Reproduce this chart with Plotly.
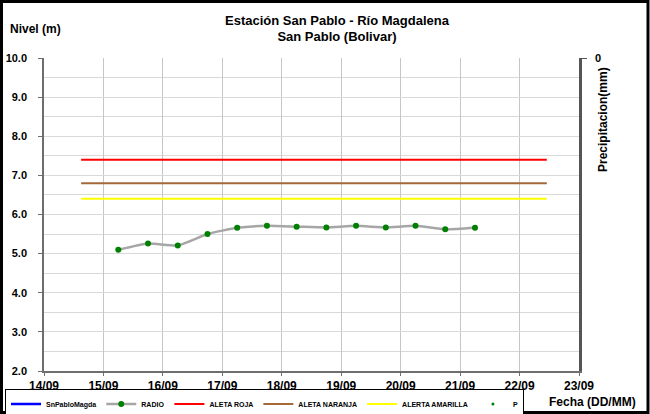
import plotly.graph_objects as go

# ---- data ----
radio_times = ["2023-09-15 06:00", "2023-09-15 18:00", "2023-09-16 06:00", "2023-09-16 18:00",
               "2023-09-17 06:00", "2023-09-17 18:00", "2023-09-18 06:00", "2023-09-18 18:00",
               "2023-09-19 06:00", "2023-09-19 18:00", "2023-09-20 06:00", "2023-09-20 18:00",
               "2023-09-21 06:00"]
radio_vals = [5.10, 5.26, 5.21, 5.50, 5.66, 5.71, 5.69, 5.67, 5.71, 5.67, 5.71, 5.62, 5.66]

alert_times = ["2023-09-14 15:00", "2023-09-22 11:00"]
roja_vals = [7.4, 7.4]
naranja_vals = [6.8, 6.8]
amarilla_vals = [6.4, 6.4]

# series present in the legend but with no readings in the period
snpablo_times = [None]
snpablo_vals = [None]
precip_times = [None]
precip_vals = [None]

x_range = ["2023-09-14", "2023-09-23"]
y_range = [2, 10]

# ---- layout geometry (pixels) ----
W, H = 650, 414
L, R, T, B = 44, 71, 58, 43
PW = W - L - R
PH = H - T - B

def px_x(x):
    return (x - L) / PW

def px_y(y):
    return (H - B - y) / PH

FONT = "Arial, Liberation Sans, sans-serif"

fig = go.Figure()
fig.add_trace(go.Scatter(x=snpablo_times, y=snpablo_vals, name="SnPabloMagda", mode="lines",
                         line=dict(color="#0000ff", width=2.5)))
fig.add_trace(go.Scatter(x=radio_times, y=radio_vals, name="RADIO", mode="lines+markers",
                         line=dict(color="#a6a6a6", width=2.5, shape="spline", smoothing=0.5),
                         marker=dict(color="#008000", size=6)))
fig.add_trace(go.Scatter(x=alert_times, y=roja_vals, name="ALETA ROJA", mode="lines",
                         line=dict(color="#ff0000", width=2)))
fig.add_trace(go.Scatter(x=alert_times, y=naranja_vals, name="ALETA NARANJA", mode="lines",
                         line=dict(color="#a5683a", width=2)))
fig.add_trace(go.Scatter(x=alert_times, y=amarilla_vals, name="ALERTA AMARILLA", mode="lines",
                         line=dict(color="#ffff00", width=2)))
fig.add_trace(go.Scatter(x=precip_times, y=precip_vals, name="P", mode="markers", yaxis="y2",
                         marker=dict(color="#008000", size=3)))

fig.update_layout(
    width=W, height=H,
    margin=dict(l=L, r=R, t=T, b=B, autoexpand=False),
    paper_bgcolor="white", plot_bgcolor="white",
    font=dict(family=FONT, color="black", size=11),
    title=dict(text="<b>Estación San Pablo - Río Magdalena</b><br><b>San Pablo (Bolivar)</b>",
               x=337 / W, xanchor="center", y=1 - 24.5 / H, yanchor="middle",
               font=dict(family=FONT, size=13, color="black")),
    xaxis=dict(type="date", range=x_range, dtick=86400000, tick0="2023-09-14",
               tickformat="%d/%m", showgrid=True, gridcolor="#c6c6c6", gridwidth=1,
               showline=True, linecolor="#6e6e6e", linewidth=1.5,
               ticks="outside", ticklen=3, tickcolor="#6e6e6e",
               tickfont=dict(family=FONT, size=12, weight="bold"), zeroline=False),
    yaxis=dict(range=y_range, dtick=1, tickformat=".1f", showgrid=True, gridcolor="#d9d9d9",
               minor=dict(dtick=0.5, showgrid=True, gridcolor="#d9d9d9"),
               showline=True, linecolor="#6e6e6e", linewidth=1.5,
               ticks="outside", ticklen=4, tickcolor="#6e6e6e", ticklabelstandoff=9,
               tickfont=dict(family=FONT, size=11, weight="bold"), zeroline=False),
    yaxis2=dict(overlaying="y", side="right", range=[10, 0], tickvals=[0], ticktext=["0"],
                showgrid=False, zeroline=False, showline=True, linecolor="#555555", linewidth=2.5,
                ticks="outside", ticklen=5, tickcolor="#555555", ticklabelstandoff=6,
                tickfont=dict(family=FONT, size=11, weight="bold")),
    legend=dict(orientation="h", x=px_x(5), xanchor="left", y=px_y(388.5), yanchor="top",
                bordercolor="black", borderwidth=1, bgcolor="white",
                font=dict(family=FONT, size=7, weight="bold"), itemwidth=30,
                tracegroupgap=0),
    showlegend=True,
)

fig.add_annotation(text="<b>Nivel (m)</b>", xref="paper", yref="paper", x=px_x(8), y=px_y(29),
                   xanchor="left", yanchor="middle", showarrow=False,
                   font=dict(family=FONT, size=12))
fig.add_annotation(text="<b>Precipitacion(mm)</b>", xref="paper", yref="paper", x=px_x(603),
                   y=px_y(120), xanchor="center", yanchor="middle", textangle=-90, showarrow=False,
                   font=dict(family=FONT, size=12))
fig.add_annotation(text="<b>Fecha (DD/MM)</b>", xref="paper", yref="paper", x=px_x(592),
                   y=px_y(402), xanchor="center", yanchor="middle", showarrow=False,
                   font=dict(family=FONT, size=12))

fig.add_shape(type="rect", xref="paper", yref="paper",
              x0=px_x(1.5), x1=px_x(648), y0=px_y(412.5), y1=px_y(1.5),
              line=dict(color="black", width=3), fillcolor="rgba(0,0,0,0)", layer="above")

fig.write_html("out.html", config={"displayModeBar": False},
               post_script="document.body.style.margin='0';document.body.style.overflow='hidden';")
